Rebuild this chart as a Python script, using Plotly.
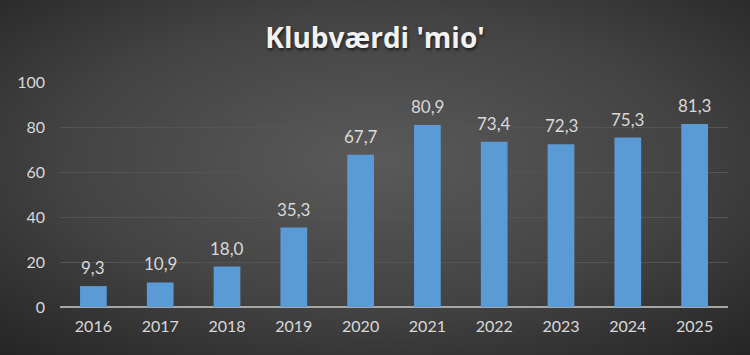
import base64
import plotly.graph_objects as go

years = ["2016", "2017", "2018", "2019", "2020", "2021", "2022", "2023", "2024", "2025"]
values = [9.3, 10.9, 18.0, 35.3, 67.7, 80.9, 73.4, 72.3, 75.3, 81.3]
y_ticks = [0, 20, 40, 60, 80, 100]
title_text = "Klubværdi 'mio'"

W, H = 750, 355
ML, MR, MT, MB = 60, 22, 82, 48
pw, ph = W - ML - MR, H - MT - MB

svg = f'''<svg xmlns="http://www.w3.org/2000/svg" width="{W}" height="{H}" viewBox="0 0 {W} {H}" preserveAspectRatio="none">
<defs><radialGradient id="g" cx="50%" cy="45%" r="75%" fx="50%" fy="45%">
<stop offset="0%" stop-color="#5a5a5a"/><stop offset="55%" stop-color="#434343"/><stop offset="100%" stop-color="#242424"/>
</radialGradient></defs><rect x="0" y="0" width="{W}" height="{H}" fill="url(#g)"/></svg>'''
bg_uri = "data:image/svg+xml;base64," + base64.b64encode(svg.encode()).decode()

fig = go.Figure()
fig.add_trace(go.Bar(
    x=years, y=values,
    marker=dict(color="#5b9bd5", line=dict(width=0)),
    width=0.4,
    hoverinfo="x+y",
))

# value labels above bars (category index positions on the category axis)
for i, v in enumerate(values):
    fig.add_annotation(x=i, y=v, xref="x", yref="y",
                       text=f"{v:.1f}".replace(".", ","), showarrow=False,
                       yanchor="bottom", yshift=6,
                       font=dict(family="Lato", size=17, color="#d9d9d9"))

fig.update_layout(
    width=W, height=H,
    margin=dict(l=ML, r=MR, t=MT, b=MB, pad=0),
    paper_bgcolor="#3a3a3a",
    plot_bgcolor="rgba(0,0,0,0)",
    separators=",.",
    showlegend=False,
    title=dict(text=f"<b>{title_text}</b>", x=0.5, xanchor="center", y=1 - 38 / H, yanchor="middle",
               font=dict(family="Open Sans", size=28, color="#f2f2f2",
                         shadow="1px 2px 3px rgba(0,0,0,0.6)")),
    images=[dict(source=bg_uri, xref="paper", yref="paper",
                 x=-ML / pw, y=1 + MT / ph, sizex=W / pw, sizey=H / ph,
                 xanchor="left", yanchor="top", sizing="stretch", layer="below")],
    xaxis=dict(type="category", categoryorder="array", categoryarray=years,
               showgrid=False, showline=False, zeroline=False,
               ticks="", tickfont=dict(family="Lato", size=16, color="#d9d9d9"),
               ticklabelstandoff=8),
    yaxis=dict(range=[0, 100], tickvals=y_ticks, showgrid=True, gridcolor="#545454", gridwidth=1,
               zeroline=True, zerolinecolor="#a6a6a6", zerolinewidth=2,
               showline=False, ticks="", tickfont=dict(family="Lato", size=16, color="#d9d9d9"),
               ticklabelstandoff=14),
    bargap=0.6,
)

fig.write_html("out.html")
